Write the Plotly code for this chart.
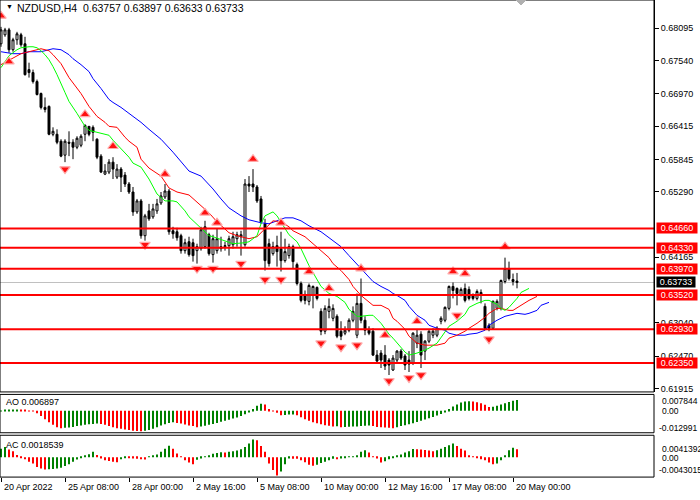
import plotly.graph_objects as go

# ---------------- data ----------------
bars = list(range(130))

opens = [0.67827, 0.67981, 0.68066, 0.67725, 0.67896, 0.67981, 0.67827, 0.67384, 0.67333, 0.67179,
         0.66974, 0.66736, 0.66753, 0.66275, 0.66275, 0.66156, 0.65917, 0.66138, 0.66138, 0.66053,
         0.66087, 0.66275, 0.66411, 0.66394, 0.66190, 0.65900, 0.65592, 0.65627, 0.65797, 0.65541,
         0.65678, 0.65575, 0.65422, 0.65285, 0.64944, 0.65132, 0.64535, 0.64961, 0.64859, 0.64961,
         0.65098, 0.65200, 0.65302, 0.64620, 0.64603, 0.64535, 0.64279, 0.64432, 0.64415, 0.64279,
         0.64313, 0.64347, 0.64552, 0.64211, 0.64279, 0.64347, 0.64347, 0.64364, 0.64381, 0.64484,
         0.64518, 0.64381, 0.65422, 0.65422, 0.65371, 0.65166, 0.64740, 0.64398, 0.64228, 0.64364,
         0.64313, 0.64108, 0.64194, 0.64347, 0.64040, 0.63716, 0.63528, 0.63409, 0.63511, 0.63648,
         0.63238, 0.62897, 0.63238, 0.63119, 0.63153, 0.62897, 0.62863, 0.62914, 0.63085, 0.62829,
         0.63375, 0.63085, 0.62914, 0.62897, 0.62488, 0.62522, 0.62488, 0.62402, 0.62232, 0.62402,
         0.62556, 0.62471, 0.62402, 0.62351, 0.62692, 0.62846, 0.62556, 0.62726, 0.62829, 0.62829,
         0.63068, 0.63085, 0.63289, 0.63665, 0.63631, 0.63528, 0.63631, 0.63614, 0.63511, 0.63460,
         0.63528, 0.63323, 0.62999, 0.62948, 0.63289, 0.63289, 0.63750, 0.63972, 0.63784, 0.63757]

highs = [0.68117, 0.68100, 0.68100, 0.67930, 0.68032, 0.68015, 0.67947, 0.67503, 0.67384, 0.67213,
         0.66991, 0.66906, 0.66770, 0.66394, 0.66360, 0.66190, 0.66190, 0.66326, 0.66190, 0.66241,
         0.66275, 0.66446, 0.66411, 0.66428, 0.66207, 0.65934, 0.65763, 0.65848, 0.65882, 0.65763,
         0.65712, 0.65627, 0.65456, 0.65371, 0.65166, 0.65166, 0.64910, 0.65081, 0.65081, 0.65166,
         0.65285, 0.65422, 0.65337, 0.64688, 0.64671, 0.64569, 0.64484, 0.64518, 0.64484, 0.64398,
         0.64688, 0.64791, 0.64586, 0.64552, 0.64654, 0.64518, 0.64432, 0.64535, 0.64603, 0.64603,
         0.64620, 0.65507, 0.65558, 0.65678, 0.65405, 0.65217, 0.64825, 0.64484, 0.64432, 0.64535,
         0.64603, 0.64484, 0.64398, 0.64381, 0.64074, 0.63750, 0.63596, 0.63716, 0.63682, 0.63665,
         0.63289, 0.63341, 0.63460, 0.63358, 0.63187, 0.63068, 0.62982, 0.63119, 0.63323, 0.63545,
         0.63801, 0.63153, 0.62982, 0.62948, 0.62573, 0.62573, 0.62658, 0.62436, 0.62488, 0.62573,
         0.62590, 0.62505, 0.62556, 0.62880, 0.62931, 0.62897, 0.62744, 0.62914, 0.62948, 0.62982,
         0.63153, 0.63323, 0.63682, 0.63733, 0.63648, 0.63648, 0.63716, 0.63665, 0.63545, 0.63614,
         0.63614, 0.63375, 0.63033, 0.63426, 0.63443, 0.63784, 0.64159, 0.64091, 0.63886, 0.63897]

lows = [0.67776, 0.67947, 0.67674, 0.67691, 0.67810, 0.67776, 0.67281, 0.67247, 0.67145, 0.66940,
        0.66701, 0.66650, 0.66258, 0.66241, 0.66104, 0.65882, 0.65797, 0.65900, 0.65848, 0.66019,
        0.66053, 0.66156, 0.66241, 0.66156, 0.65848, 0.65610, 0.65575, 0.65592, 0.65507, 0.65507,
        0.65285, 0.65371, 0.65251, 0.64876, 0.64910, 0.64484, 0.64450, 0.64791, 0.64825, 0.64910,
        0.65064, 0.65166, 0.64552, 0.64484, 0.64450, 0.64228, 0.64228, 0.64176, 0.64091, 0.64057,
        0.64279, 0.64313, 0.64194, 0.64074, 0.64228, 0.64262, 0.64279, 0.64194, 0.64313, 0.64347,
        0.64194, 0.64347, 0.65285, 0.65285, 0.65098, 0.64740, 0.63938, 0.64006, 0.64194, 0.64006,
        0.63921, 0.64074, 0.64142, 0.63972, 0.63682, 0.63392, 0.63358, 0.63341, 0.63289, 0.63426,
        0.62829, 0.62846, 0.63119, 0.63068, 0.62778, 0.62744, 0.62829, 0.62880, 0.63051, 0.62778,
        0.63033, 0.62829, 0.62829, 0.62471, 0.62351, 0.62266, 0.62232, 0.62146, 0.62215, 0.62368,
        0.62402, 0.62232, 0.62198, 0.62317, 0.62607, 0.62266, 0.62402, 0.62692, 0.62778, 0.62795,
        0.63016, 0.63051, 0.63255, 0.63460, 0.63341, 0.63494, 0.63392, 0.63426, 0.63426, 0.63426,
        0.63375, 0.62914, 0.62897, 0.62931, 0.63255, 0.63255, 0.63716, 0.63767, 0.63682, 0.63633]

closes = [0.68066, 0.68066, 0.67725, 0.67896, 0.67998, 0.67810, 0.67298, 0.67333, 0.67179, 0.66957,
          0.66736, 0.66701, 0.66275, 0.66326, 0.66138, 0.65900, 0.66156, 0.66121, 0.66053, 0.66207,
          0.66241, 0.66428, 0.66275, 0.66309, 0.65882, 0.65627, 0.65644, 0.65797, 0.65678, 0.65678,
          0.65541, 0.65422, 0.65285, 0.64944, 0.65132, 0.64535, 0.64876, 0.64825, 0.64995, 0.65081,
          0.65217, 0.65302, 0.64603, 0.64569, 0.64501, 0.64279, 0.64415, 0.64211, 0.64194, 0.64347,
          0.64637, 0.64688, 0.64228, 0.64484, 0.64484, 0.64313, 0.64364, 0.64484, 0.64518, 0.64552,
          0.64552, 0.65422, 0.65388, 0.65371, 0.65132, 0.64774, 0.64108, 0.64057, 0.64347, 0.64262,
          0.64108, 0.64262, 0.64347, 0.64091, 0.63716, 0.63426, 0.63426, 0.63682, 0.63665, 0.63460,
          0.62897, 0.63289, 0.63323, 0.63289, 0.62812, 0.62812, 0.62914, 0.63085, 0.63238, 0.63375,
          0.63085, 0.62914, 0.62863, 0.62488, 0.62385, 0.62402, 0.62300, 0.62317, 0.62436, 0.62556,
          0.62436, 0.62317, 0.62334, 0.62863, 0.62829, 0.62488, 0.62726, 0.62897, 0.62897, 0.62948,
          0.63119, 0.63306, 0.63665, 0.63596, 0.63545, 0.63614, 0.63426, 0.63460, 0.63460, 0.63579,
          0.63562, 0.62948, 0.62948, 0.63409, 0.63409, 0.63767, 0.63972, 0.63801, 0.63750, 0.63733]

# Alligator lines (sampled): lips (green), teeth (red), jaw (blue)
lips_x = [0, 1, 2, 4, 5, 7, 8, 9, 10, 11, 12, 13, 14, 16, 17, 19, 20, 21, 22, 25, 27, 28, 30, 32, 33, 35,
          37, 39, 41, 43, 44, 46, 47, 50, 52, 53, 56, 58, 61, 62, 64, 65, 66, 68, 69, 71, 72, 74, 75,
          77, 79, 80, 82, 84, 86, 87, 89, 90, 92, 93, 95, 97, 98, 99, 101, 102, 104, 106, 107, 109,
          111, 112, 114, 116, 117, 119, 121, 122, 124, 125, 126, 127, 129, 130, 132]
lips_y = [0.67418, 0.67520, 0.67623, 0.67725, 0.67759, 0.67776, 0.67776, 0.67759, 0.67708, 0.67640,
          0.67554, 0.67435, 0.67298, 0.66991, 0.66838, 0.66633, 0.66531, 0.66411, 0.66343, 0.66292,
          0.66258, 0.66173, 0.66019, 0.65882, 0.65780, 0.65712, 0.65507, 0.65251, 0.65132, 0.65132,
          0.65115, 0.64961, 0.64859, 0.64654, 0.64535, 0.64518, 0.64450, 0.64398, 0.64415, 0.64432,
          0.64535, 0.64740, 0.64876, 0.64944, 0.64876, 0.64671, 0.64552, 0.64432, 0.64313, 0.64023,
          0.63784, 0.63665, 0.63545, 0.63494, 0.63392, 0.63272, 0.63153, 0.63153, 0.63170, 0.63170,
          0.63033, 0.62846, 0.62778, 0.62692, 0.62539, 0.62488, 0.62522, 0.62573, 0.62607, 0.62692,
          0.62880, 0.62982, 0.63068, 0.63187, 0.63306, 0.63375, 0.63426, 0.63426, 0.63358, 0.63289,
          0.63255, 0.63306, 0.63460, 0.63562, 0.63631]

teeth_x = [0, 3, 5, 7, 9, 10, 12, 13, 15, 17, 20, 22, 24, 26, 27, 29, 31, 32, 34, 35, 37, 40, 42, 44,
           47, 49, 52, 54, 57, 59, 62, 64, 66, 67, 68, 70, 72, 73, 76, 78, 80, 82, 83, 85, 87, 88, 90,
           92, 93, 95, 97, 98, 99, 101, 102, 104, 106, 107, 109, 111, 112, 114, 116, 117, 119, 121,
           122, 124, 125, 127, 128, 130, 132, 134]
teeth_y = [0.67469, 0.67589, 0.67657, 0.67691, 0.67725, 0.67742, 0.67708, 0.67640, 0.67486, 0.67247,
           0.66974, 0.66753, 0.66582, 0.66480, 0.66411, 0.66394, 0.66224, 0.66156, 0.66053, 0.65848,
           0.65695, 0.65558, 0.65354, 0.65285, 0.65234, 0.65115, 0.64927, 0.64774, 0.64586, 0.64535,
           0.64484, 0.64518, 0.64654, 0.64740, 0.64791, 0.64774, 0.64688, 0.64620, 0.64518, 0.64398,
           0.64279, 0.64159, 0.64057, 0.63938, 0.63784, 0.63665, 0.63511, 0.63392, 0.63341, 0.63341,
           0.63272, 0.63119, 0.63068, 0.62931, 0.62812, 0.62692, 0.62658, 0.62658, 0.62658, 0.62692,
           0.62778, 0.62829, 0.62897, 0.62948, 0.63033, 0.63136, 0.63204, 0.63289, 0.63289, 0.63255,
           0.63255, 0.63341, 0.63426, 0.63494]

jaw_x = [0, 2, 3, 5, 7, 8, 10, 12, 13, 15, 17, 18, 20, 22, 23, 25, 27, 28, 30, 33, 35, 37, 40, 43,
         45, 47, 50, 53, 55, 57, 60, 62, 65, 67, 69, 71, 73, 75, 77, 80, 82, 85, 87, 90, 92, 93, 95,
         97, 98, 99, 101, 102, 104, 106, 107, 109, 111, 112, 114, 116, 117, 119, 121, 122, 124, 126,
         127, 129, 131, 132, 134, 135, 137]
jaw_y = [0.67691, 0.67674, 0.67657, 0.67657, 0.67691, 0.67691, 0.67691, 0.67725, 0.67742, 0.67725,
         0.67640, 0.67571, 0.67469, 0.67350, 0.67230, 0.67060, 0.66872, 0.66821, 0.66736, 0.66582,
         0.66480, 0.66360, 0.66190, 0.65968, 0.65797, 0.65644, 0.65558, 0.65337, 0.65166, 0.65012,
         0.64876, 0.64808, 0.64757, 0.64740, 0.64791, 0.64842, 0.64842, 0.64791, 0.64705, 0.64603,
         0.64501, 0.64347, 0.64194, 0.63972, 0.63835, 0.63750, 0.63665, 0.63596, 0.63545, 0.63511,
         0.63426, 0.63323, 0.63170, 0.63085, 0.62999, 0.62948, 0.62914, 0.62863, 0.62829, 0.62829,
         0.62846, 0.62863, 0.62914, 0.62999, 0.63085, 0.63153, 0.63170, 0.63204, 0.63187, 0.63204,
         0.63255, 0.63341, 0.63392]

# Fractals
frac_up_x = [0, 2, 21, 28, 41, 51, 54, 63, 70, 77, 82, 90, 96, 104, 113, 116, 126]
frac_up_y = [0.68305, 0.67520, 0.66616, 0.66070, 0.65592, 0.64927, 0.64757, 0.65848, 0.64757,
             0.63921, 0.63631, 0.63972, 0.62829, 0.63068, 0.63921, 0.63886, 0.64347]
frac_dn_x = [16, 36, 49, 53, 60, 66, 70, 80, 85, 89, 97, 102, 105, 114, 122]
frac_dn_y = [0.65678, 0.64381, 0.63972, 0.63972, 0.64057, 0.63784, 0.63784, 0.62692, 0.62624,
             0.62658, 0.62044, 0.62095, 0.62146, 0.63170, 0.62761]

# Horizontal levels
levels = [0.64660, 0.64330, 0.63970, 0.63520, 0.62930, 0.62350]
last_price = 0.63733

# Price axis ticks (those not hidden behind the level boxes)
price_ticks = [0.68095, 0.67540, 0.66970, 0.66415, 0.65845, 0.65290, 0.64165,
               0.63040, 0.62470, 0.61915]

# Awesome Oscillator (x 1e-3)
ao_milli = [0.2, 0.3, 0.4, 0.45, 0.5, 0.4, 0.3, 0.1, -0.2, -1.6,
            -3.2, -5.3, -7.3, -8.9, -10.4, -11.0, -10.8, -10.6, -10.2, -9.7,
            -9.3, -8.9, -8.5, -8.3, -8.1, -8.3, -8.9, -9.7, -10.4, -11.0,
            -11.4, -11.8, -12.2, -12.6, -12.8, -12.991, -12.7, -12.2, -11.4, -10.4,
            -9.3, -8.5, -7.7, -7.3, -7.7, -8.1, -8.7, -9.3, -9.7, -10.4,
            -9.9, -9.5, -8.9, -8.3, -7.7, -6.9, -6.3, -5.7, -4.9, -4.3,
            -3.2, -2.2, -0.8, 1.2, 3.2, 4.5, 4.1, 1.2, -0.2, -1.2,
            -2.8, -2.6, -2.4, -2.3, -2.8, -4.1, -5.3, -6.3, -7.3, -7.9,
            -8.5, -9.1, -9.5, -9.9, -9.8, -10.4, -10.2, -10.1, -10.0, -9.9,
            -9.7, -9.5, -9.3, -9.7, -10.2, -10.4, -10.6, -10.8, -11.0, -10.4,
            -9.7, -9.1, -8.5, -7.9, -7.1, -6.3, -5.5, -4.7, -3.9, -3.0,
            -2.0, -1.0, 1.2, 2.8, 4.1, 5.3, 5.9, 6.1, 5.9, 5.5,
            4.9, 3.9, 2.4, 2.6, 3.2, 4.1, 4.9, 5.7, 6.5, 6.897]

# Accelerator Oscillator (x 1e-4)
ac_e4 = [20, 24, 18, 14, 5, -0.3, -5, -11, -15, -23,
         -27, -29, -28.5, -28, -26.5, -25, -21, -17, -11, -5.5,
         -1.5, 2.3, 7, 12.5, 5, -3, -7, -9, -11, -12,
         -5, -0.5, -0.8, -3, -4, -5, -5.5, 0.8, 2.3, 6,
         12.5, 20, 27, 20, 8.6, 0.8, -7, -12.5, -17, -6,
         -3, 0.8, 4.7, 7.8, 10, 11.7, 11, 12.5, 14, 15.6,
         18.7, 24, 32, 41.392, 40, 26.5, 12.5, -15, -30, -43.015,
         -34, -17, -3, -3.5, -4, -7, -12, -18, -20, -18,
         -14, -11, -7, -4, -5, -3, -1, 0.5, 0.8, 4.7,
         12.5, 16.4, 11, 0.8, -3, -12.5, -9.4, -4.7, -1.6, 3,
         6, 11, 14, 19, 18.7, 18, 17, 15.6, 14, 16.4,
         20, 24, 28, 32, 26.5, 20, 15.6, 4.7, 0.8, -0.5,
         -4.7, -7, -12.5, -17, -15, -7, 4.7, 16.4, 22, 18.539]

time_tick_bars = [0, 16, 32, 48, 64, 80, 96, 112, 128]
time_tick_text = ["20 Apr 2022", "25 Apr 08:00", "28 Apr 00:00", "2 May 16:00", "5 May 08:00",
                  "10 May 00:00", "12 May 16:00", "17 May 08:00", "20 May 00:00"]

title_text = "NZDUSD,H4\u00a0\u00a00.63757 0.63897 0.63633 0.63733"
ao_label = "AO 0.006897"
ac_label = "AC 0.0018539"
ao_axis_text = ["0.007844", "0.00", "-0.012991"]
ac_axis_text = ["0.0041392", "0.00", "-0.0043015"]

# ---------------- figure ----------------
W, H = 700, 500
FONT = "Liberation Sans, Arial, sans-serif"
XR = 654 / W            # right edge of plotting area (paper)
GREEN_H = "#008000"
RED = "#ff0000"


def py(px):
    return 1 - px / H


ao_vals = [v * 1e-3 for v in ao_milli]
ac_vals = [v * 1e-4 for v in ac_e4]


def colors(vals):
    out = [GREEN_H]
    for i in range(1, len(vals)):
        out.append(GREEN_H if vals[i] > vals[i - 1] else RED)
    return out


fig = go.Figure()

fig.add_trace(go.Candlestick(
    x=bars, open=opens, high=highs, low=lows, close=closes,
    xaxis="x", yaxis="y",
    increasing=dict(line=dict(color="black", width=1), fillcolor="white"),
    decreasing=dict(line=dict(color="black", width=1), fillcolor="black"),
    whiskerwidth=0, hoverinfo="skip", showlegend=False))

for xs, ys, col in [(jaw_x, jaw_y, "#0000ff"), (teeth_x, teeth_y, "#ff0000"),
                    (lips_x, lips_y, "#00ff00")]:
    fig.add_trace(go.Scatter(x=xs, y=ys, mode="lines", line=dict(color=col, width=1),
                             xaxis="x", yaxis="y", hoverinfo="skip", showlegend=False))

frac_marker = dict(size=9, color="#ff1010", line=dict(color="#ffa8a8", width=1.2))
fig.add_trace(go.Scatter(x=frac_up_x, y=frac_up_y, mode="markers", xaxis="x", yaxis="y",
                         marker=dict(symbol="triangle-up", **frac_marker),
                         hoverinfo="skip", showlegend=False))
fig.add_trace(go.Scatter(x=frac_dn_x, y=frac_dn_y, mode="markers", xaxis="x", yaxis="y",
                         marker=dict(symbol="triangle-down", **frac_marker),
                         hoverinfo="skip", showlegend=False))

fig.add_trace(go.Bar(x=bars, y=ao_vals, width=0.28, marker=dict(color=colors(ao_vals), line=dict(width=0)),
                     xaxis="x", yaxis="y2", hoverinfo="skip", showlegend=False))
fig.add_trace(go.Bar(x=bars, y=ac_vals, width=0.28, marker=dict(color=colors(ac_vals), line=dict(width=0)),
                     xaxis="x", yaxis="y3", hoverinfo="skip", showlegend=False))

shapes = []
for lv in levels:
    shapes.append(dict(type="line", xref="paper", yref="y", x0=0, x1=XR, y0=lv, y1=lv,
                       line=dict(color=RED, width=2), layer="above"))
shapes.append(dict(type="line", xref="paper", yref="y", x0=0, x1=XR, y0=last_price, y1=last_price,
                   line=dict(color="#c0c0c0", width=1), layer="below"))
for top_px, bot_px in [(0, 393.5), (396, 434.5), (437, 479)]:
    shapes.append(dict(type="rect", xref="paper", yref="paper", x0=0, x1=XR,
                       y0=py(bot_px), y1=py(top_px), line=dict(color="black", width=1),
                       fillcolor="rgba(0,0,0,0)", layer="above"))
shapes.append(dict(type="path", xref="paper", yref="paper",
                   path=f"M {516/W},{1} L {526/W},{1} L {521/W},{py(5)} Z",
                   fillcolor="#b0b0b0", line=dict(color="#b0b0b0", width=1)))

ann = []
ann.append(dict(text="▼", x=4 / W, y=py(7), xref="paper", yref="paper", xanchor="left",
                yanchor="middle", showarrow=False, font=dict(family=FONT, size=7, color="black")))
ann.append(dict(text=title_text, x=15 / W, y=py(8), xref="paper", yref="paper", xanchor="left",
                yanchor="middle", showarrow=False, font=dict(family=FONT, size=10.5, color="black")))
ann.append(dict(text=ao_label, x=4 / W, y=py(404), xref="paper", yref="paper", xanchor="left",
                yanchor="middle", showarrow=False, font=dict(family=FONT, size=9, color="black")))
ann.append(dict(text=ac_label, x=4 / W, y=py(447), xref="paper", yref="paper", xanchor="left",
                yanchor="middle", showarrow=False, font=dict(family=FONT, size=9, color="black")))
for txt, ypx, xpx in zip(ao_axis_text, [402.8, 412.5, 429.3], [660, 660, 656.5]):
    ann.append(dict(text=txt, x=xpx / W, y=py(ypx), xref="paper", yref="paper", xanchor="left",
                    yanchor="middle", showarrow=False, font=dict(family=FONT, size=8.5, color="black")))
for txt, ypx, xpx in zip(ac_axis_text, [450.5, 459.5, 472], [660, 660, 656.5]):
    ann.append(dict(text=txt, x=xpx / W, y=py(ypx), xref="paper", yref="paper", xanchor="left",
                    yanchor="middle", showarrow=False, font=dict(family=FONT, size=8.5, color="black")))
for b, txt in zip(time_tick_bars, time_tick_text):
    ann.append(dict(text=txt, x=b, y=py(489), xref="x", yref="paper", xanchor="left", xshift=1,
                    yanchor="middle", showarrow=False, font=dict(family=FONT, size=9, color="black")))
for lv in levels:
    ann.append(dict(text=f"{lv:.5f}", x=656 / W, y=lv, xref="paper", yref="y", xanchor="left",
                    yanchor="middle", showarrow=False, bgcolor=RED, width=40, height=10,
                    borderpad=0, align="center", font=dict(family=FONT, size=9, color="white")))
ann.append(dict(text=f"{last_price:.5f}", x=656 / W, y=last_price, xref="paper", yref="y",
                xanchor="left", yanchor="middle", showarrow=False, bgcolor="black", width=38,
                height=10, borderpad=0, align="center", font=dict(family=FONT, size=9, color="white")))

fig.update_layout(
    width=W, height=H, margin=dict(l=0, r=0, t=0, b=0),
    paper_bgcolor="white", plot_bgcolor="white", showlegend=False, barmode="overlay",
    font=dict(family=FONT, size=9, color="black"),
    xaxis=dict(domain=[0, XR], range=[-0.25, 163.25], anchor="y3", showgrid=False, zeroline=False,
               showline=False, tickvals=time_tick_bars, ticks="outside", ticklen=4, tickcolor="black",
               showticklabels=False, rangeslider=dict(visible=False), fixedrange=True),
    yaxis=dict(domain=[py(393.5), 1.0], range=[0.61856, 0.68578], side="right", anchor="x",
               tickvals=price_ticks, ticktext=[f"{t:.5f}" for t in price_ticks], ticks="outside",
               ticklen=4, tickcolor="black", showline=True, linecolor="black", linewidth=1,
               showgrid=False, zeroline=False, tickfont=dict(family=FONT, size=9, color="black")),
    yaxis2=dict(domain=[py(434.5), py(396)], range=[-0.01395, 0.01046], side="right", anchor="x",
                showticklabels=False, showgrid=False, zeroline=False, showline=False, ticks=""),
    yaxis3=dict(domain=[py(479), py(437)], range=[-0.0047, 0.00517], side="right", anchor="x",
                showticklabels=False, showgrid=False, zeroline=False, showline=False, ticks=""),
    shapes=shapes, annotations=ann,
)

fig.write_html("out.html", config={"displayModeBar": False},
               post_script="document.body.style.margin='0';document.body.style.overflow='hidden';")
